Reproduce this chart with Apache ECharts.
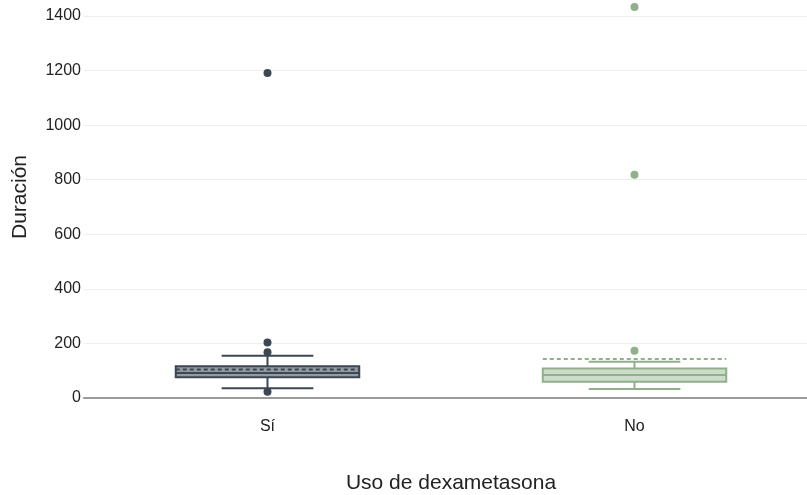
<!DOCTYPE html>
<html>
<head>
<meta charset="utf-8">
<script src="https://cdn.jsdelivr.net/npm/echarts@6/dist/echarts.min.js"></script>
<style>html,body{margin:0;padding:0;background:#fff;overflow:hidden}#c{width:807px;height:495px}</style>
</head>
<body>
<div id="c"></div>
<script>
var categories = ['Sí', 'No'];
// [lowerWhisker, q1, median, q3, upperWhisker, mean]
var boxStats = [
  [36, 76, 92, 116, 155, 104],
  [33, 60, 84, 108, 133, 143]
];
var outliersSi = [23, 168, 203, 1191];
var outliersNo = [173, 818, 1433];
var yTicks = { min: 0, max: 1400, interval: 200 };
var colors = ['#3b4753', '#8fb08a'];
var fills = ['rgba(59,71,83,0.55)', 'rgba(143,176,138,0.45)'];
var FONT = 'Liberation Sans, Arial, Helvetica, sans-serif';

var chart = echarts.init(document.getElementById('c'));

function renderBox(params, api) {
  var idx = api.value(0);
  var lw = api.value(1), q1 = api.value(2), med = api.value(3), q3 = api.value(4), uw = api.value(5), mean = api.value(6);
  var band = api.size([1, 0])[0];
  var bw = band * 0.5;
  var cw = band * 0.25;
  var cx = api.coord([idx, 0])[0];
  var y = function (v) { return api.coord([idx, v])[1]; };
  var col = colors[idx], fill = fills[idx];
  var ls = { stroke: col, lineWidth: 2, fill: null };
  return {
    type: 'group',
    children: [
      { type: 'line', shape: { x1: cx, y1: y(q3), x2: cx, y2: y(uw) }, style: ls },
      { type: 'line', shape: { x1: cx, y1: y(q1), x2: cx, y2: y(lw) }, style: ls },
      { type: 'line', shape: { x1: cx - cw / 2, y1: y(uw), x2: cx + cw / 2, y2: y(uw) }, style: ls },
      { type: 'line', shape: { x1: cx - cw / 2, y1: y(lw), x2: cx + cw / 2, y2: y(lw) }, style: ls },
      { type: 'rect', shape: { x: cx - bw / 2, y: y(q3), width: bw, height: y(q1) - y(q3) }, style: { fill: fill, stroke: col, lineWidth: 2 } },
      { type: 'line', shape: { x1: cx - bw / 2, y1: y(med), x2: cx + bw / 2, y2: y(med) }, style: ls },
      { type: 'line', shape: { x1: cx - bw / 2, y1: y(mean), x2: cx + bw / 2, y2: y(mean) }, style: { stroke: col, lineWidth: 2, lineDash: [4, 3], fill: null } }
    ]
  };
}

var boxData = boxStats.map(function (s, i) { return [i].concat(s); });

chart.setOption({
  animation: false,
  grid: { left: 84, top: 16, height: 382, width: 734, outerBoundsMode: 'none', containLabel: false },
  graphic: [{
    type: 'text',
    x: 20, y: 197,
    rotation: Math.PI / 2,
    style: { text: 'Duración', fill: '#222', font: '21px ' + FONT, align: 'center', verticalAlign: 'middle' }
  }],
  xAxis: {
    type: 'category',
    data: categories,
    boundaryGap: true,
    axisTick: { show: false },
    axisLine: { lineStyle: { color: '#9a9a9a', width: 2 } },
    axisLabel: { color: '#222', fontSize: 16, margin: 21, fontFamily: FONT },
    splitLine: { show: false },
    name: 'Uso de dexametasona',
    nameLocation: 'middle',
    nameGap: 75,
    nameTextStyle: { color: '#222', fontSize: 21, fontFamily: FONT }
  },
  yAxis: {
    type: 'value',
    min: yTicks.min,
    max: yTicks.max,
    interval: yTicks.interval,
    axisLine: { show: false },
    axisTick: { show: false },
    axisLabel: { color: '#222', fontSize: 16, margin: 3, fontFamily: FONT, formatter: function (v) { return String(v); } },
    splitLine: { lineStyle: { color: '#eeeeee', width: 1 } }
  },
  series: [
    {
      type: 'custom',
      renderItem: renderBox,
      data: boxData,
      encode: { x: 0, y: [1, 2, 3, 4, 5, 6] },
      clip: false,
      z: 3
    },
    {
      type: 'scatter',
      data: outliersSi.map(function (v) { return [0, v]; }),
      symbolSize: 8,
      itemStyle: { color: colors[0], opacity: 1 },
      clip: false,
      z: 4
    },
    {
      type: 'scatter',
      data: outliersNo.map(function (v) { return [1, v]; }),
      symbolSize: 8,
      itemStyle: { color: colors[1], opacity: 1 },
      clip: false,
      z: 4
    }
  ]
});
</script>
</body>
</html>
